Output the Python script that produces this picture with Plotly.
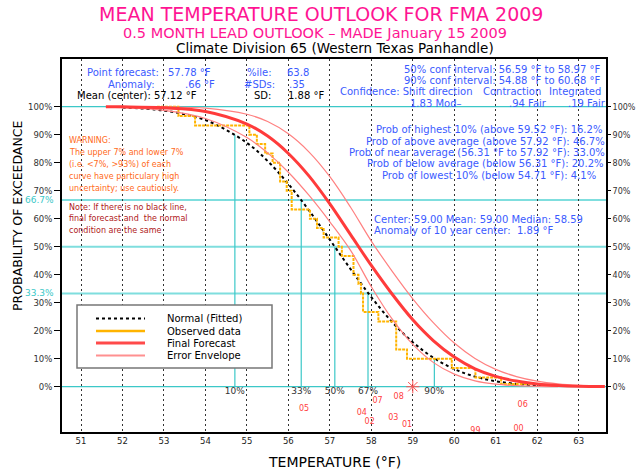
import plotly.graph_objects as go

# ---------------- data ----------------
normal_temp = [52.0, 53.0, 54.0, 55.0, 55.5, 56.0, 56.5, 57.0, 57.5, 58.0, 58.5, 59.0, 59.5, 60.0, 60.5, 61.0, 61.5, 62.0, 62.2]
normal_prob = [99.7, 98.6, 95.2, 87.1, 80.6, 72.4, 62.9, 52.5, 42.0, 32.0, 23.1, 15.9, 10.3, 6.3, 3.6, 1.95, 1.0, 0.47, 0.3]

obs_temp = [52.83, 53.35, 53.75, 55.06, 55.24, 55.44, 55.62, 55.80, 55.96, 56.08, 56.52, 56.69, 56.85,
            57.21, 57.29, 57.57, 57.69, 57.75, 57.80, 58.17, 58.60, 58.86, 59.94, 60.51, 61.13, 62.05]
obs_prob = [100.0, 96.7, 93.3, 90.0, 86.7, 83.3, 80.0, 73.3, 70.0, 63.3, 60.0, 56.7, 53.3,
            50.0, 46.7, 40.0, 36.7, 33.3, 26.7, 23.3, 13.3, 10.0, 6.7, 3.3, 1.0, 1.0]

fcst_temp = [51.6, 52.0, 53.0, 54.0, 55.0, 55.5, 56.0, 56.5, 57.0, 57.5, 58.0, 58.5, 59.0, 59.5, 60.0, 60.5, 61.0, 61.5, 62.0, 62.5, 63.0, 63.63]
fcst_prob = [99.97, 99.94, 99.6, 98.3, 93.8, 89.5, 83.3, 75.2, 65.3, 54.3, 43.3, 33.1, 23.9, 16.4, 10.6, 6.4, 3.7, 2.0, 1.0, 0.47, 0.2, 0.07]

env_hi_temp = [52.0, 53.0, 54.0, 55.0, 55.5, 56.0, 56.5, 57.0, 57.5, 58.0, 58.5, 59.0, 59.5, 60.0, 60.5, 61.0, 61.5, 62.0, 62.5, 63.0, 63.63]
env_hi_prob = [99.99, 99.93, 99.5, 97.3, 94.7, 90.3, 83.8, 75.0, 64.1, 52.0, 41.3, 31.4, 22.8, 15.6, 10.1, 6.2, 3.6, 1.96, 1.0, 0.48, 0.18]

env_lo_temp = [51.6, 52.0, 53.0, 54.0, 55.0, 55.5, 56.0, 56.5, 57.0, 57.5, 58.0, 58.5, 59.0, 59.5, 60.0, 60.5, 61.0, 61.5, 62.0, 62.5]
env_lo_prob = [99.83, 99.68, 98.7, 95.8, 89.0, 83.5, 76.6, 68.3, 58.9, 48.7, 35.7, 24.2, 15.1, 8.6, 4.5, 2.1, 0.9, 0.35, 0.12, 0.04]

pct_temp = [54.71, 56.31, 57.12, 57.92, 59.52]
pct_exceed = [90.0, 66.7, 50.0, 33.3, 10.0]
pct_labels = ["10%", "33%", "50%", "67%", "90%"]

year_labels = ["05", "07", "08", "04", "03", "02", "01", "99", "06", "00"]
year_temp = [56.38, 58.15, 58.66, 57.77, 58.53, 57.96, 58.86, 60.51, 61.65, 61.55]
year_pos = [-8.1, -5.2, -3.6, -9.5, -11.1, -12.5, -13.7, -15.7, -6.5, -15.2]

center_temp = [59.0]
center_prob = [0.0]

hlines = [0.0, 33.3, 50.0, 66.7, 100.0]
x_ticks = list(range(51, 64))
y_ticks = list(range(0, 101, 10))
y_ticktext = [f"{v}%" for v in y_ticks]

# ---------------- layout helpers ----------------
W, H = 636, 472
L, R, T, B = 62, 606, 59, 432
def px(x): return (x - L) / (R - L)
def py(y): return (B - y) / (B - T)

FONT = "DejaVu Sans"
BLUE = "#3b5bff"
ORANGE = "#ff6a1a"
DARKRED = "#b02020"
MAGENTA = "#ff1493"
CYAN = "#3cc8c8"
CYAN_L = "#7fdede"

fig = go.Figure()

# percentile vertical lines
for t, e in zip(pct_temp, pct_exceed):
    fig.add_trace(go.Scatter(x=[t, t], y=[0, e], mode="lines",
                             line=dict(color=CYAN, width=1.2), hoverinfo="skip", showlegend=False))

fig.add_trace(go.Scatter(x=normal_temp, y=normal_prob, mode="lines", line_shape="spline",
                         line=dict(color="black", width=2, dash="dot"), showlegend=False))
fig.add_trace(go.Scatter(x=obs_temp, y=obs_prob, mode="lines", line_shape="hv",
                         line=dict(color="#ffb400", width=2, dash="3px,1px"), showlegend=False))
fig.add_trace(go.Scatter(x=env_lo_temp, y=env_lo_prob, mode="lines", line_shape="spline",
                         line=dict(color="#ff8080", width=1.2), showlegend=False))
fig.add_trace(go.Scatter(x=env_hi_temp, y=env_hi_prob, mode="lines", line_shape="spline",
                         line=dict(color="#ff8080", width=1.2), showlegend=False))
fig.add_trace(go.Scatter(x=fcst_temp, y=fcst_prob, mode="lines", line_shape="spline",
                         line=dict(color="#ff3b3b", width=3), showlegend=False))

fig.add_trace(go.Scatter(x=center_temp, y=center_prob, mode="markers",
                         marker=dict(symbol="asterisk-open", size=11, color="#ff5050",
                                     line=dict(color="#ff5050", width=1)),
                         showlegend=False, cliponaxis=False))

fig.add_trace(go.Scatter(x=pct_temp, y=[-1.9] * len(pct_temp), mode="text", text=pct_labels,
                         textfont=dict(family=FONT, size=9, color="#333333"), showlegend=False,
                         cliponaxis=False))
fig.add_trace(go.Scatter(x=year_temp, y=year_pos, mode="text", text=year_labels,
                         textfont=dict(family=FONT, size=8, color="#ff4040"), showlegend=False,
                         cliponaxis=True))

# dummy for right axis
fig.add_trace(go.Scatter(x=[55], y=[50], yaxis="y2", mode="markers", marker=dict(opacity=0),
                         hoverinfo="skip", showlegend=False))

shapes = []
for h in hlines:
    if h in (33.3, 50.0, 66.7):
        col, wd = CYAN_L, 2
    else:
        col, wd = CYAN, 1.3
    shapes.append(dict(type="line", xref="paper", x0=0, x1=1, yref="y", y0=h, y1=h,
                       line=dict(color=col, width=wd), layer="below"))

# custom legend
shapes.append(dict(type="rect", xref="paper", yref="paper", x0=px(77), x1=px(272), y0=py(368), y1=py(305),
                   fillcolor="white", line=dict(color="#777777", width=1.5), layer="above"))
leg = [("Normal (Fitted)", "black", 2, "dot", 318.5),
       ("Observed data", "#ffb400", 2.5, "solid", 331),
       ("Final Forecast", "#ff4a4a", 3, "solid", 343),
       ("Error Envelope", "#ff9090", 2, "solid", 355.5)]
ann = []
for name, col, wd, dash, yy in leg:
    shapes.append(dict(type="line", xref="paper", yref="paper", x0=px(96), x1=px(145), y0=py(yy), y1=py(yy),
                       line=dict(color=col, width=wd, dash=dash), layer="above"))
    ann.append(dict(text=name, x=px(165), y=py(yy), xanchor="left", yanchor="middle",
                    font=dict(family=FONT, size=10, color="black")))

def A(text, x, y, color, size=10, anchor="left"):
    ann.append(dict(text=text, x=px(x), y=py(y), xanchor=anchor, yanchor="middle",
                    font=dict(family=FONT, size=size, color=color)))

# titles
A("MEAN TEMPERATURE OUTLOOK FOR FMA 2009", 321, 14, MAGENTA, 19, "center")
A("0.5 MONTH LEAD OUTLOOK \u2013 MADE January 15 2009", 315, 32.5, MAGENTA, 14.5, "center")
A("Climate Division 65 (Western Texas Panhandle)", 335, 47.5, "black", 13.5, "center")

# top-left stats
A("Point forecast:", 85, 72, BLUE)
A("57.78 \u00b0F", 166, 72, BLUE)
A("%ile:", 245, 72, BLUE)
A("63.8", 285, 72, BLUE)
A("Anomaly:", 157, 84.5, BLUE, anchor="right")
A(".66 \u00b0F", 183, 84.5, BLUE)
A("#SDs:", 242, 84.5, BLUE)
A(".35", 287, 84.5, BLUE)
A("Mean (center): 57.12 \u00b0F", 75, 96, "black")
A("SD:", 252, 96, "black")
A("1.88 \u00b0F", 286, 96, "black")

# top-right stats
A("50% conf interval: 56.59 \u00b0F to 58.97 \u00b0F", 602, 69.5, BLUE, anchor="right")
A("90% conf interval: 54.88 \u00b0F to 60.68 \u00b0F", 602, 80.5, BLUE, anchor="right")
A("Confidence: Shift direction", 338, 92, BLUE)
A("Contraction", 481, 92, BLUE)
A("Integrated", 547, 92, BLUE)
A("1.83 Mod\u2013", 408, 103.5, BLUE)
A(".94 Fair", 507, 103.5, BLUE)
A(".19 Fair", 566, 103.5, BLUE)

# warning / note
for i, s in enumerate(["WARNING:", "The upper 7% and lower 7%", "(i.e. <7%, >93%) of each",
                       "curve have particulary high", "uncertainty; use cautiously."]):
    A(s, 67, [140.7, 152.7, 164.3, 176, 188][i], ORANGE, 8)
for i, s in enumerate(["Note: If there is no black line,", "final forecast and  the normal",
                       "condition are the same"]):
    A(s, 67, [207.7, 218.8, 230][i], DARKRED, 8)

# probabilities
A("Prob of highest 10% (above 59.52 \u00b0F): 16.2%", 604, 129.3, BLUE, anchor="right")
A("Prob of above average (above 57.92 \u00b0F): 46.7%", 607, 141.5, BLUE, anchor="right")
A("Prob of near average (56.31 \u00b0F to 57.92 \u00b0F): 33.0%", 607, 152.7, BLUE, anchor="right")
A("Prob of below average (below 56.31 \u00b0F): 20.2%", 606, 163.8, BLUE, anchor="right")
A("Prob of lowest 10% (below 54.71 \u00b0F): 4.1%", 598, 175.2, BLUE, anchor="right")
A("Center: 59.00 Mean: 59.00 Median: 58.59", 372, 219.3, BLUE)
A("Anomaly of 10 year center:  1.89 \u00b0F", 372, 230.7, BLUE)

# cyan side labels
A("66.7%", 56, 200.0, CYAN, 9, "right")
A("33.3%", 56, 293.4, CYAN, 9, "right")

# axis titles
A("TEMPERATURE (\u00b0F)", 334, 462, "black", 14, "center")
ann.append(dict(text="PROBABILITY OF EXCEEDANCE", x=px(18), y=py(216), xanchor="center", yanchor="middle",
                textangle=-90, font=dict(family=FONT, size=12.5, color="black")))

for a in ann:
    a.update(xref="paper", yref="paper", showarrow=False)

yrange = [(386.7 - B) / 2.8, (386.7 - T) / 2.8]
xrange = [51 - (81 - L) / 41.45, 63 + (R - 578.7) / 41.45]

fig.update_layout(
    width=W, height=H, margin=dict(l=L, r=W - R, t=T, b=H - B, autoexpand=False),
    paper_bgcolor="white", plot_bgcolor="white",
    font=dict(family=FONT, size=10, color="#222222"),
    xaxis=dict(range=xrange, tickvals=x_ticks, showgrid=True, gridcolor="#333333", griddash="2px,3px",
               gridwidth=1, zeroline=False, showline=True, linecolor="black", linewidth=2, mirror=True,
               ticks="", automargin=False, tickfont=dict(family=FONT, size=8.5, color="#222222")),
    yaxis=dict(range=yrange, tickvals=y_ticks, ticktext=y_ticktext, showgrid=False, zeroline=False,
               showline=True, linecolor="black", linewidth=2, mirror=True, ticks="outside", ticklen=6,
               automargin=False, tickcolor="black", tickfont=dict(family=FONT, size=8.5, color="#333333")),
    yaxis2=dict(range=yrange, tickvals=y_ticks, ticktext=y_ticktext, overlaying="y", side="right",
                showgrid=False, zeroline=False, showline=False, ticks="outside", ticklen=4,
                automargin=False, tickcolor="black", tickfont=dict(family=FONT, size=8, color="#333333")),
    shapes=shapes, annotations=ann, showlegend=False,
)

fig.write_html("out.html", config={"displayModeBar": False},
               post_script="document.body.style.margin='0px';document.body.style.overflow='hidden';")
